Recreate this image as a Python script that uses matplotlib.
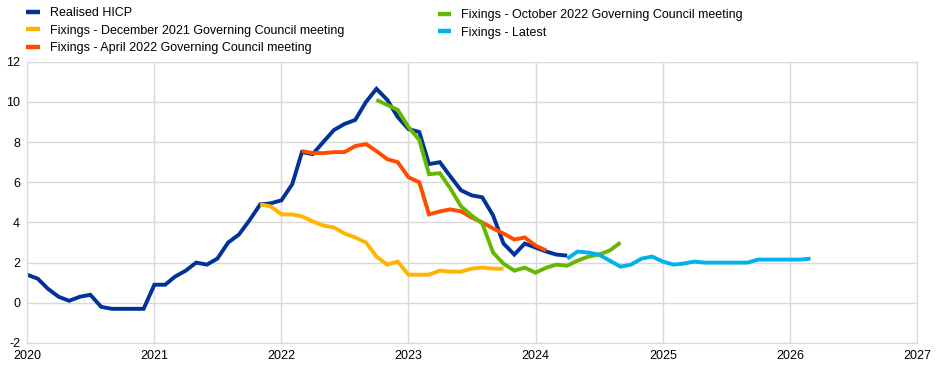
import pandas as pd
import matplotlib
matplotlib.use("Agg")
import matplotlib.pyplot as plt
import matplotlib.dates as mdates
from matplotlib.lines import Line2D

plt.rcParams["font.family"] = ["Liberation Sans", "DejaVu Sans"]
plt.rcParams["axes.unicode_minus"] = False

# monthly year-on-year HICP inflation, %
hicp = [1.4, 1.2, 0.7, 0.3, 0.1, 0.3, 0.4, -0.2, -0.3, -0.3, -0.3, -0.3,
        0.9, 0.9, 1.3, 1.6, 2.0, 1.9, 2.2, 3.0, 3.4, 4.1, 4.9, 4.95,
        5.1, 5.9, 7.5, 7.4, 8.0, 8.6, 8.9, 9.1, 10.0, 10.65, 10.1, 9.25,
        8.65, 8.5, 6.9, 7.0, 6.3, 5.6, 5.35, 5.25, 4.35, 2.95, 2.4, 2.95,
        2.75, 2.55, 2.4, 2.35]
dec21 = [4.9, 4.8, 4.4, 4.4, 4.3, 4.05, 3.85, 3.75, 3.45, 3.25, 3.0, 2.3,
         1.9, 2.05, 1.4, 1.4, 1.4, 1.6, 1.55, 1.55, 1.7, 1.75, 1.7, 1.7]
apr22 = [7.55, 7.45, 7.45, 7.5, 7.5, 7.8, 7.9, 7.55, 7.15, 7.0, 6.25, 6.0,
         4.4, 4.55, 4.65, 4.55, 4.25, 4.0, 3.7, 3.45, 3.15, 3.25, 2.85, 2.6]
oct22 = [10.1, 9.85, 9.6, 8.75, 8.1, 6.4, 6.45, 5.7, 4.8, 4.35, 3.95, 2.5,
         1.95, 1.6, 1.75, 1.5, 1.75, 1.9, 1.85, 2.1, 2.3, 2.4, 2.6, 3.0]
latest = [2.2, 2.55, 2.5, 2.4, 2.1, 1.8, 1.9, 2.2, 2.3, 2.05, 1.9, 1.95,
          2.05, 2.0, 2.0, 2.0, 2.0, 2.0, 2.15, 2.15, 2.15, 2.15, 2.15, 2.2]

series = [
    ("Realised HICP", "2020-01-01", hicp, "#003299"),
    ("Fixings - December 2021 Governing Council meeting", "2021-11-01", dec21, "#FFB400"),
    ("Fixings - April 2022 Governing Council meeting", "2022-03-01", apr22, "#FF4B00"),
    ("Fixings - October 2022 Governing Council meeting", "2022-10-01", oct22, "#65B800"),
    ("Fixings - Latest", "2024-04-01", latest, "#00B1EA"),
]

fig = plt.figure(figsize=(9.44, 3.69), dpi=100)
ax = fig.add_axes([0.0286, 0.0705, 0.9428, 0.7623])

handles = []
for label, start, vals, col in series:
    dates = pd.date_range(start, periods=len(vals), freq="MS")
    ax.plot(dates, vals, color=col, lw=2.8, solid_capstyle="butt", solid_joinstyle="miter")
    handles.append(Line2D([], [], color=col, lw=3.2, solid_capstyle="butt", label=label))

ax.set_xlim(pd.Timestamp("2020-01-01"), pd.Timestamp("2027-01-01"))
ax.set_ylim(-2, 12)
ax.set_yticks(range(-2, 13, 2))
ax.xaxis.set_major_locator(mdates.YearLocator())
ax.xaxis.set_major_formatter(mdates.DateFormatter("%Y"))
ax.grid(True, color="#d9d9d9", lw=1)
ax.set_axisbelow(True)
for s in ax.spines.values():
    s.set_color("#d9d9d9")
ax.tick_params(length=0, labelsize=9, pad=5)

leg_kw = dict(frameon=False, fontsize=9, handlelength=1.05, handletextpad=0.8,
              labelspacing=0.45, borderaxespad=0, borderpad=0)
fig.legend(handles=handles[:3], loc="upper left", bbox_to_anchor=(0.028, 0.981), **leg_kw)
fig.legend(handles=handles[3:], loc="upper left", bbox_to_anchor=(0.464, 0.975), **leg_kw)

fig.savefig("out.png", dpi=100)
